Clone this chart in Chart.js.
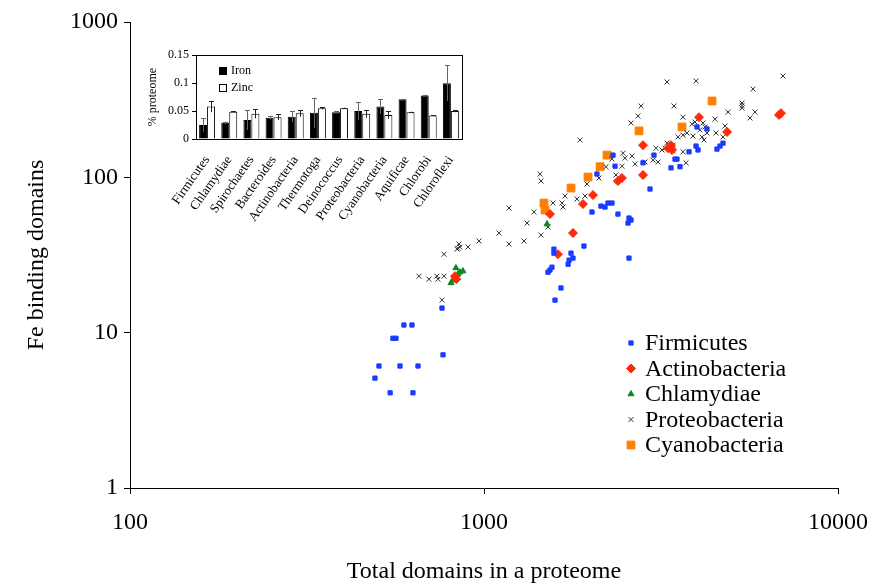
<!DOCTYPE html>
<html>
<head>
<meta charset="utf-8">
<title>Fe binding domains vs proteome size</title>
<script src="https://cdn.jsdelivr.net/npm/chart.js@4.4.1/dist/chart.umd.min.js"></script>
<style>
    html, body { margin: 0; padding: 0; background: #fff; }
    #wrap { position: relative; width: 873px; height: 586px; }
    #main { position: absolute; left: 0; top: 0; }
    #inset { position: absolute; left: 140px; top: 45px; }
</style>
</head>
<body>
<div id="wrap">
    <canvas id="main" width="873" height="586"></canvas>
    <canvas id="inset" width="330" height="185"></canvas>
</div>
<script>
// Scatter data: [total domains, Fe binding domains]
const firmicutes = [
    [505, 6.1], [579, 6.1], [651, 6.1], [492, 5.1], [543, 4.1], [630, 4.1], [553, 9.2], [564, 9.2],
    [594, 11.2], [626, 11.2], [766, 7.2], [761, 14.4],
    [1576, 34.5], [1576, 32.5], [1916, 36.1], [1761, 32.5], [1784, 30.2], [1739, 29.3], [1728, 27.6],
    [1556, 26.4], [1536, 25.3], [1516, 24.5], [1650, 19.4], [1587, 16.2], [2568, 30.2],
    [2085, 105], [2345, 118], [2314, 139], [2019, 59.8], [2140, 65.3], [2197, 64.4], [2240, 68.3],
    [2299, 68.3], [2390, 58.0], [2568, 54.7], [2602, 53.1], [2552, 50.8],
    [3021, 139], [2813, 124], [3509, 131], [3464, 131], [3375, 115], [3578, 117], [2944, 84.1],
    [3997, 211], [3794, 146], [3972, 159], [4023, 150], [4642, 159], [4733, 166], [4551, 152], [4265, 205],
];
const actinobacteria = [
    [828, 23.1], [835, 22.1], [1618, 32.0], [1784, 43.8], [1536, 58.0], [1904, 67.3], [2032, 76.9],
    [2390, 94.7], [2453, 99.0], [2813, 103.5], [2813, 161], [3310, 154], [3375, 161], [3397, 150],
    [4049, 244], [4860, 196], [6813, 252], [6903, 259],
];
const chlamydiae = [
    [833, 26.1], [855, 24.5], [872, 24.9], [844, 23.8], [817, 21.8], [807, 20.9], [1507, 50.0],
];
const proteobacteria = [
    [655, 23.1], [699, 22.1], [736, 23.1], [741, 22.1], [771, 23.1], [761, 16.2], [771, 32.0],
    [844, 35.0], [850, 37.2], [839, 34.5], [855, 35.6], [901, 35.6], [968, 38.9], [1103, 43.8],
    [1177, 37.2], [1297, 38.9], [1323, 50.8], [1449, 42.5], [1516, 47.9], [1177, 63.4], [1384, 59.8],
    [1440, 105], [1449, 94.7], [1566, 68.3], [1661, 68.3], [1672, 64.4], [1693, 75.8], [1831, 72.5],
    [1929, 75.8], [1954, 90.5], [2113, 99.0], [2211, 117], [2360, 103.5], [1867, 174],
    [2470, 143], [2502, 133], [2619, 137], [2671, 122], [2453, 118], [2850, 125.5], [3002, 129],
    [3101, 125.5], [3061, 154], [3183, 150], [3246, 154], [3288, 166], [3419, 161], [3419, 148],
    [3649, 146], [3721, 124], [3745, 193], [3649, 187], [3894, 184.5], [3532, 182], [2602, 224],
    [2723, 248], [2777, 288], [2299, 131],
    [3869, 220], [3945, 227], [4156, 224], [4210, 211], [4075, 202], [4265, 193], [4129, 182],
    [4183, 174], [4522, 193], [4796, 214], [4733, 182], [4493, 237], [4891, 263], [5356, 301],
    [5356, 290], [5356, 279], [5830, 263], [5642, 241], [3441, 288], [3649, 244], [3288, 411],
    [3972, 417], [5754, 370], [6994, 449],
];
const cyanobacteria = [
    [1477, 68.3], [1487, 61.6], [1761, 85.3], [1967, 100.4], [2127, 117], [2226, 139], [2741, 199],
    [3625, 211], [4407, 310],
];
const xTicks = [100, 1000, 10000];
const yTicks = [1, 10, 100, 1000];

// Inset: % of proteome, mean and error
const insetLabels = ['Firmicutes', 'Chlamydiae', 'Spirochaetes', 'Bacteroides', 'Actinobacteria', 'Thermotoga',
    'Deinococcus', 'Proteobacteria', 'Cyanobacteria', 'Aquificae', 'Chlorobi', 'Chloroflexi'];
const ironMean = [0.025, 0.029, 0.034, 0.038, 0.040, 0.047, 0.048, 0.050, 0.058, 0.071, 0.078, 0.100];
const ironErr = [0.012, 0.002, 0.018, 0.003, 0.010, 0.027, 0.002, 0.016, 0.013, 0.001, 0.001, 0.032];
const zincMean = [0.058, 0.049, 0.045, 0.039, 0.046, 0.055, 0.055, 0.045, 0.043, 0.048, 0.042, 0.050];
const zincErr = [0.010, 0.001, 0.008, 0.005, 0.006, 0.002, 0.001, 0.007, 0.007, 0.001, 0.001, 0.002];
const insetTicks = [0, 0.05, 0.1, 0.15];

const SERIF = '"Liberation Serif", "Times New Roman", serif';
const toPoints = (arr) => arr.map(([x, y]) => ({ x, y }));

function series(label, data, style, radius, color, border) {
    return {
        label,
        data: toPoints(data),
        pointStyle: style,
        pointRadius: radius,
        pointHoverRadius: radius,
        backgroundColor: color,
        borderColor: color,
        borderWidth: border,
    };
}

// Legend drawn inside the plot, lower right
const scatterLegend = {
    id: 'scatterLegend',
    afterDraw(chart) {
        const ctx = chart.ctx;
        ctx.save();
        ctx.font = '24px ' + SERIF;
        ctx.textBaseline = 'middle';
        chart.data.datasets.forEach((ds, i) => {
            const y = 343 + i * 25.5;
            ctx.fillStyle = ds.backgroundColor;
            ctx.strokeStyle = ds.borderColor;
            ctx.lineWidth = ds.borderWidth;
            Chart.helpers.drawPoint(ctx, {
                pointStyle: ds.pointStyle, radius: ds.pointRadius, borderWidth: ds.borderWidth, rotation: 0,
            }, 631, y);
            ctx.fillStyle = '#000';
            ctx.fillText(ds.label, 645, y + 1);
        });
        ctx.restore();
    },
};

function logAxis(min, max, tickList, title, fit) {
    return {
        type: 'logarithmic',
        min,
        max,
        afterBuildTicks: (s) => { s.ticks = tickList.map((v) => ({ value: v })); },
        afterFit: fit,
        grid: { drawOnChartArea: false, tickLength: 6, color: '#000' },
        border: { color: '#000', width: 1 },
        ticks: {
            color: '#000',
            font: { family: SERIF, size: 24 },
            autoSkip: false,
            maxRotation: 0,
            callback: (v) => String(v),
        },
        title: {
            display: true,
            text: title,
            color: '#000',
            font: { family: SERIF, size: 24 },
        },
    };
}

const xAxis = logAxis(100, 10000, xTicks, 'Total domains in a proteome', (s) => {
    s.height = 98;
    s.paddingLeft = 0;
    s.paddingRight = 0;
});
xAxis.ticks.padding = 14;
xAxis.title.padding = { top: 0, bottom: 0 };
const yAxis = logAxis(1, 1000, yTicks, 'Fe binding domains', (s) => {
    s.width = 120;
    s.paddingTop = 0;
    s.paddingBottom = 0;
});
yAxis.ticks.padding = 6;
yAxis.title.padding = { top: 12, bottom: 0 };

new Chart(document.getElementById('main'), {
    type: 'scatter',
    data: {
        datasets: [
            series('Firmicutes', firmicutes, 'rect', 3, '#1a3cff', 1),
            series('Actinobacteria', actinobacteria, 'rectRot', 4.5, '#ff2a0a', 1),
            series('Chlamydiae', chlamydiae, 'triangle', 3.5, '#0a8a1a', 1),
            series('Proteobacteria', proteobacteria, 'crossRot', 3.5, '#333333', 1),
            series('Cyanobacteria', cyanobacteria, 'rect', 5.5, '#ff8000', 1),
        ],
    },
    options: {
        responsive: false,
        animation: false,
        layout: { padding: { left: 10, right: 35, top: 22, bottom: 0 } },
        plugins: { legend: { display: false }, tooltip: { enabled: false } },
        scales: { x: xAxis, y: yAxis },
    },
    plugins: [scatterLegend],
});

// Inset bar chart with error bars
const errorBars = {
    id: 'errorBars',
    afterDatasetsDraw(chart) {
        const ctx = chart.ctx;
        const yScale = chart.scales.y;
        const errs = [ironErr, zincErr];
        ctx.save();
        ctx.lineWidth = 1;
        chart.data.datasets.forEach((ds, i) => {
            ctx.strokeStyle = i === 0 ? '#666' : '#222';
            chart.getDatasetMeta(i).data.forEach((bar, j) => {
                const m = ds.data[j];
                const e = errs[i][j];
                const top = yScale.getPixelForValue(m + e);
                const bot = yScale.getPixelForValue(m - e);
                const x = Math.round(bar.x) + 0.5;
                ctx.beginPath();
                ctx.moveTo(x, bot);
                ctx.lineTo(x, top);
                ctx.moveTo(x - 2.5, Math.round(top) + 0.5);
                ctx.lineTo(x + 2.5, Math.round(top) + 0.5);
                ctx.stroke();
            });
        });
        ctx.restore();
    },
    afterDraw(chart) {
        const { ctx, chartArea: a } = chart;
        ctx.save();
        ctx.strokeStyle = '#000';
        ctx.lineWidth = 1;
        ctx.strokeRect(Math.round(a.left) + 0.5, Math.round(a.top) + 0.5,
            Math.round(a.right - a.left), Math.round(a.bottom - a.top));
        // legend
        ctx.font = '12px ' + SERIF;
        ctx.textBaseline = 'middle';
        chart.data.datasets.forEach((ds, i) => {
            const y = 26 + i * 17;
            ctx.fillStyle = ds.backgroundColor;
            ctx.fillRect(79, y - 4, 8, 8);
            ctx.strokeStyle = '#000';
            ctx.strokeRect(79.5, y - 3.5, 7, 7);
            ctx.fillStyle = '#000';
            ctx.fillText(ds.label, 91, y);
        });
        ctx.restore();
    },
};

new Chart(document.getElementById('inset'), {
    type: 'bar',
    data: {
        labels: insetLabels,
        datasets: [
            { label: 'Iron', data: ironMean, backgroundColor: '#000', borderColor: '#000', borderWidth: 1 },
            { label: 'Zinc', data: zincMean, backgroundColor: '#fff', borderColor: '#000', borderWidth: 1 },
        ],
    },
    options: {
        responsive: false,
        animation: false,
        layout: { padding: { left: 4, right: 8, top: 10, bottom: 0 } },
        datasets: { bar: { categoryPercentage: 0.72, barPercentage: 1.0 } },
        plugins: { legend: { display: false }, tooltip: { enabled: false } },
        scales: {
            x: {
                afterFit: (s) => { s.height = 91; },
                grid: { display: false },
                border: { color: '#000' },
                ticks: {
                    color: '#000',
                    font: { family: SERIF, size: 13 },
                    minRotation: 55,
                    maxRotation: 55,
                    autoSkip: false,
                    padding: 6,
                },
            },
            y: {
                min: 0,
                max: 0.15,
                afterBuildTicks: (s) => { s.ticks = insetTicks.map((v) => ({ value: v })); },
                afterFit: (s) => { s.width = 52; },
                grid: { drawOnChartArea: false, tickLength: 4, color: '#000' },
                border: { color: '#000' },
                ticks: {
                    color: '#000',
                    font: { family: SERIF, size: 12 },
                    padding: 3,
                    callback: (v) => String(v),
                },
                title: {
                    display: true,
                    text: '% proteome',
                    color: '#000',
                    font: { family: SERIF, size: 12 },
                    padding: { top: 2, bottom: 0 },
                },
            },
        },
    },
    plugins: [errorBars],
});
</script>
</body>
</html>
